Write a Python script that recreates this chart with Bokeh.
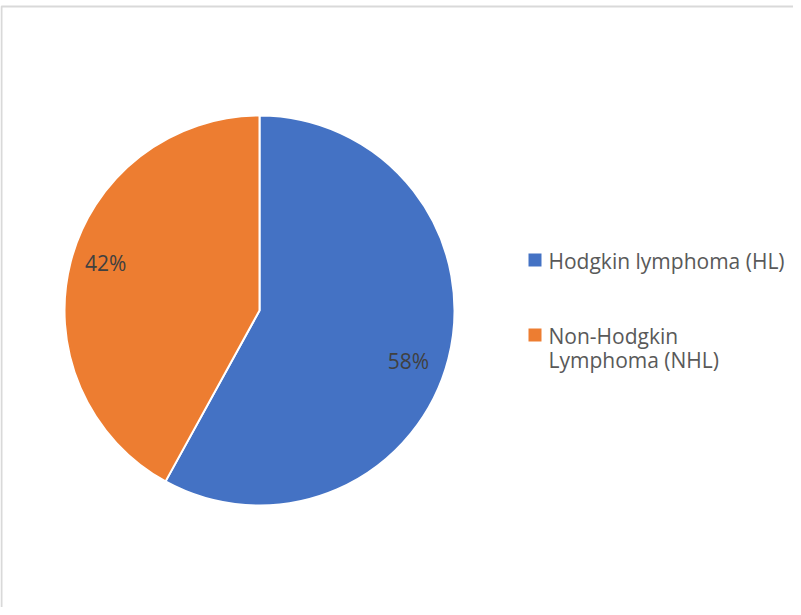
import math
from bokeh.plotting import figure
from bokeh.models import Range1d, ColumnDataSource
from bokeh.core.properties import value
from bokeh.embed import file_html
from bokeh.resources import INLINE

# ---- data ----
categories = ["Hodgkin lymphoma (HL)", "Non-Hodgkin Lymphoma (NHL)"]
shares = [58, 42]
pct_labels = ["58%", "42%"]
legend_lines = [["Hodgkin lymphoma (HL)"], ["Non-Hodgkin", "Lymphoma (NHL)"]]
colors = ["#4472C4", "#ED7D31"]

# ---- layout (canvas pixels) ----
W, H = 793, 607
CX, CY = 259, 310          # pie centre on canvas
R = 195
FONT = value("Open Sans")
FS = "21px"

p = figure(width=W, height=H, output_backend="svg", toolbar_location=None,
           x_range=Range1d(-CX, W - CX), y_range=Range1d(-(H - CY), CY),
           min_border=0, outline_line_color=None, background_fill_color="white",
           border_fill_color="white")
p.axis.visible = False
p.grid.visible = False

# chart area border (right/bottom fall outside the window)
p.quad(left=[-CX + 1], right=[2000], top=[CY - 6], bottom=[-2000],
       fill_color=None, line_color="#D9D9D9", line_width=2)

# wedges: first slice starts at 12 o'clock, running clockwise
total = float(sum(shares))
starts, ends, mids = [], [], []
a = math.pi / 2
for s in shares:
    sweep = 2 * math.pi * s / total
    ends.append(a)
    starts.append(a - sweep)
    mids.append(a - sweep / 2)
    a -= sweep
src = ColumnDataSource(dict(start=starts, end=ends, color=colors, cat=categories))
p.wedge(x=0, y=0, radius=R, start_angle="start", end_angle="end",
        fill_color="color", line_color="white", line_width=2, source=src)

# data labels: placed along each slice's mid angle, with fine offsets
label_r = [0.82 * R, 0.82 * R]
label_dx = [-6, 1]
label_dy = [-11, 8]
lx = [label_r[i] * math.cos(mids[i]) + label_dx[i] for i in range(len(shares))]
ly = [label_r[i] * math.sin(mids[i]) + label_dy[i] for i in range(len(shares))]
p.text(x=lx, y=ly, text=pct_labels, text_font=FONT, text_font_size=FS,
       text_color="#404040", text_align="center", text_baseline="middle")

# legend (manual, to allow the wrapped second label)
leg_x = 275.5
leg_y = [50.5, -24.5]
line_gap = 24
p.scatter(x=[leg_x] * len(categories), y=leg_y, marker="square", size=13,
          fill_color=colors, line_color=None)
tx, ty, tt = [], [], []
for i, lines in enumerate(legend_lines):
    for j, ln in enumerate(lines):
        tx.append(leg_x + 13.5)
        ty.append(leg_y[i] - 0.5 - j * line_gap)
        tt.append(ln)
p.text(x=tx, y=ty, text=tt, text_font=FONT, text_font_size=FS,
       text_color="#595959", text_align="left", text_baseline="middle")

open("out.html", "w").write(file_html(p, INLINE))
